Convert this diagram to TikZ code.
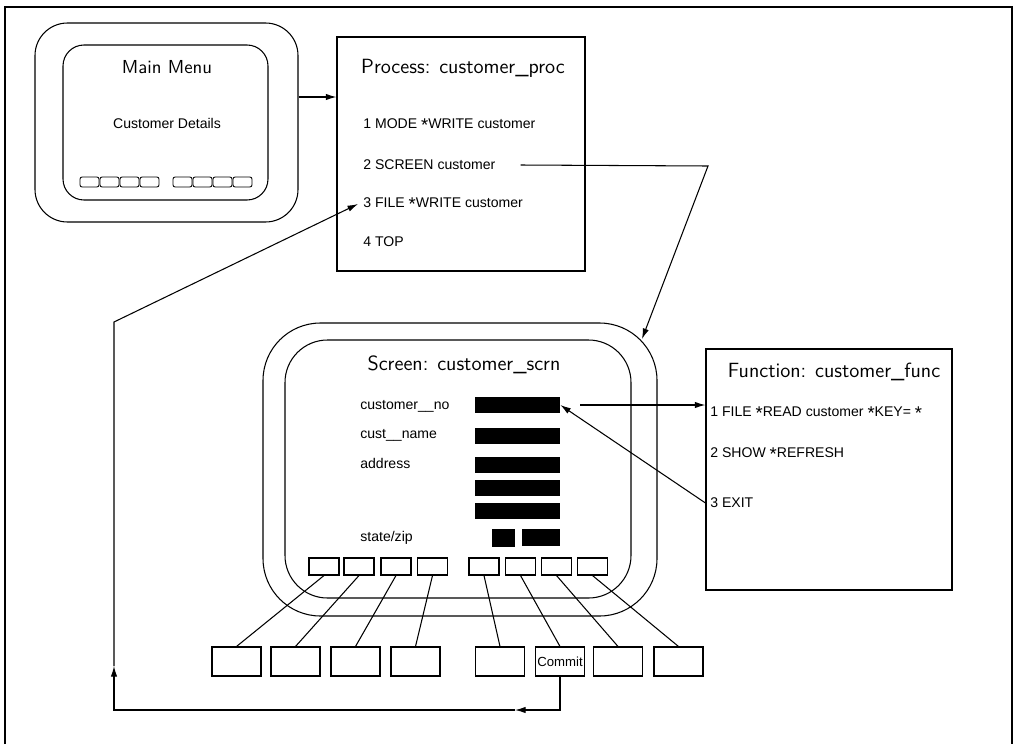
\documentclass[tikz,border=0pt]{standalone}
\usepackage{fontspec}
\newfontfamily\itemfont{Liberation Sans}
\usetikzlibrary{arrows.meta}
\newcommand\stk{\raisebox{-0.35ex}{\fontsize{10.5}{10}\selectfont *}}
\begin{document}
\begin{tikzpicture}[x=0.02cm,y=-0.02cm,
  ln/.style={line width=0.6pt},
  arr/.style={ln,-{Latex[length=6pt,width=3.6pt]}},
  scr/.style={draw,ln,inner sep=0pt},
  ttl/.style={inner sep=0pt,font=\fontsize{11.7}{13}\selectfont\sffamily},
  itm/.style={inner sep=0pt,anchor=west,font=\fontsize{8}{10}\selectfont\itemfont},
  plain/.style={draw,ln,inner sep=0pt},
  mbtn/.style={draw,line width=0.5pt,rounded corners=1.2pt,minimum width={19*0.02cm},minimum height={10*0.02cm},inner sep=0pt},
  sbtn/.style={draw,ln,minimum width={30*0.02cm},minimum height={17*0.02cm},inner sep=0pt},
  kbox/.style={draw,ln,minimum width={49*0.02cm},minimum height={29*0.02cm},inner sep=0pt,font=\fontsize{7.5}{9}\selectfont\itemfont},
  fld/.style={fill=black,inner sep=0pt}
]
\useasboundingbox (0,0) rectangle (1014,744);
% frame
\draw[line width=0.8pt] (5,744) -- (5,7) -- (1012,7) -- (1012,744);

% Main menu
\node[scr,rounded corners=0.65cm,minimum width={263*0.02cm},minimum height={199*0.02cm}] (mmout) at (166.5,122.5) {};
\node[scr,rounded corners=0.42cm,minimum width={205*0.02cm},minimum height={155*0.02cm}] (mmin) at (165.5,122.5) {};
\node[ttl,font=\fontsize{10.7}{12}\selectfont\sffamily] (mmt) at (167,67) {Main Menu};
\node[itm,anchor=center] (mmcd) at (167,123) {Customer Details};
\foreach \i/\x in {1/89.5,2/109.5,3/129.5,4/149.5,5/182.5,6/202.5,7/222.5,8/242.5}
  \node[mbtn] (mb\i) at (\x,182) {};

% Process box
\node[plain,minimum width={248*0.02cm},minimum height={234*0.02cm}] (proc) at (461,154) {};
\node[ttl] (proct) at (463,68) {Process: customer\_proc};
\node[itm] (p1) at (363,125) {1 MODE \stk WRITE customer};
\node[itm] (p2) at (363,165) {2 SCREEN customer};
\node[itm] (p3) at (363,204) {3 FILE \stk WRITE customer};
\node[itm] (p4) at (363,242) {4 TOP};

% Function box
\node[plain,minimum width={246*0.02cm},minimum height={241*0.02cm}] (func) at (829,469.5) {};
\node[ttl] (funct) at (834,372) {Function: customer\_func};
\node[itm] (f1) at (710,413) {1 FILE \stk READ customer \stk KEY= \stk};
\node[itm] (f2) at (710,454) {2 SHOW \stk REFRESH};
\node[itm] (f3) at (710,503) {3 EXIT};

% Screen
\node[scr,rounded corners=1.15cm,minimum width={394*0.02cm},minimum height={293*0.02cm}] (scout) at (460,469.5) {};
\node[scr,rounded corners=0.85cm,minimum width={346*0.02cm},minimum height={258*0.02cm}] (scin) at (458,469) {};
\node[ttl] (sct) at (464,365) {Screen: customer\_scrn};
\node[itm] (l1) at (360,406) {customer\_\_no};
\node[itm] (l2) at (360,435) {cust\_\_name};
\node[itm] (l3) at (360,463) {address};
\node[itm] (l4) at (360,538) {state/zip};
\node[fld,minimum width={85*0.02cm},minimum height={16*0.02cm}] (fd1) at (517.5,405) {};
\node[fld,minimum width={85*0.02cm},minimum height={16*0.02cm}] (fd2) at (517.5,436) {};
\node[fld,minimum width={85*0.02cm},minimum height={16*0.02cm}] (fd3) at (517.5,465) {};
\node[fld,minimum width={85*0.02cm},minimum height={16*0.02cm}] (fd4) at (517.5,487.5) {};
\node[fld,minimum width={85*0.02cm},minimum height={16*0.02cm}] (fd5) at (517.5,511) {};
\node[fld,minimum width={23*0.02cm},minimum height={18*0.02cm}] (fd6) at (503.5,538) {};
\node[fld,minimum width={38*0.02cm},minimum height={17*0.02cm}] (fd7) at (541,537.5) {};

% screen buttons and keys
\foreach \i/\x in {1/324,2/359,3/396,4/432.5,5/484,6/520.5,7/556.5,8/592.5}
  \node[sbtn] (sb\i) at (\x,566.5) {};
\foreach \i/\x in {1/236.5,2/295.5,3/355.5,4/415.5,5/500,7/618,8/678.5}
  \node[kbox] (k\i) at (\x,661.5) {};
\node[kbox] (k6) at (560,661.5) {Commit};
\foreach \i in {1,...,8}
  \draw[ln] (sb\i.south) -- (k\i.north);

% connectors
\draw[arr] (mmout.east |- 0,97) -- (proc.west |- 0,97);
\coordinate (turn1) at (708,166);
\coordinate (scin1) at (642,339);
\draw[arr] ([xshift=0.5cm]p2.east) -- (turn1) -- (scin1);
\draw[arr] ([xshift=0.4cm]fd1.east) -- (func.west |- fd1.east);
\draw[arr] (func.west |- f3.west) -- (fd1.east);
\coordinate (ret1) at (515,710);
\coordinate (ret2) at (114,710);
\coordinate (ret3) at (114,666);
\coordinate (ret4) at (114,322);
\draw[arr] (k6.south) |- (ret1);
\draw[arr] (ret1) -- (ret2) -- (ret3);
\draw[arr] (ret3) -- (ret4) -- ([xshift=-0.1cm]p3.west);
\end{tikzpicture}
\end{document}
